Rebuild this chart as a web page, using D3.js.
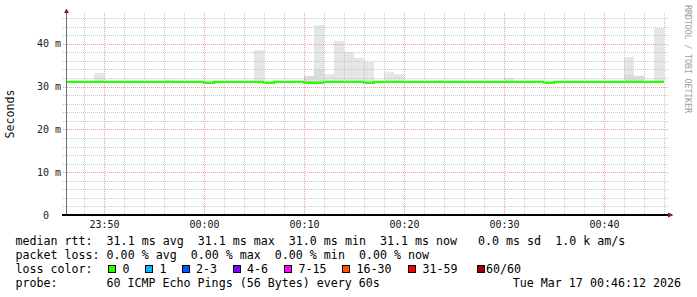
<!DOCTYPE html>
<html>
<head>
<meta charset="utf-8">
<script src="https://cdn.jsdelivr.net/npm/d3@7"></script>
<style>
  html, body { margin: 0; padding: 0; background: #fff; }
  svg { display: block; }
  text { white-space: pre; }
</style>
</head>
<body>
<div id="chart"></div>
<script>
// smokeping style chart, last hour, one value per minute (23:46 .. 00:45)
const firstMinute = new Date('2026-03-16T23:46:00')
const viewStart = new Date('2026-03-16T23:46:12')
const viewEnd = new Date('2026-03-17T00:46:12')

// median rtt in ms, per minute
const median = [
  31.1, 31.1, 31.1, 31.1, 31.1, 31.1, 31.1, 31.1, 31.1, 31.1,
  31.1, 31.1, 31.1, 31.1, 30.9, 31.1, 31.1, 31.1, 31.1, 31.1,
  30.9, 31.1, 31.1, 31.1, 30.9, 30.9, 31.1, 31.1, 31.1, 31.1,
  30.9, 31.1, 31.1, 31.1, 31.1, 31.1, 31.1, 31.1, 31.1, 31.1,
  31.1, 31.1, 31.1, 31.1, 31.1, 31.1, 31.1, 31.1, 30.9, 31.1,
  31.1, 31.1, 31.1, 31.1, 31.1, 31.1, 31.1, 31.1, 31.1, 31.1
]
// highest ping of the minute (smoke top), null = nothing above the median
const smokeMax = [
  null, null, null, 33.2, null, null, null, null, null, null,
  31.6, null, null, null, null, null, null, null, null, 38.5,
  null, null, null, null, 32.5, 44.4, 32.9, 40.7, 38.1, 36.7,
  35.8, null, 33.4, 32.9, null, null, null, 31.5, null, null,
  null, null, null, null, 32.0, null, null, null, null, null,
  null, null, null, null, null, null, 36.9, 32.5, null, 43.7
]
// denser part of the smoke
const smokeDense = [
  null, null, null, null, null, null, null, null, null, null,
  null, null, null, null, null, null, null, null, null, null,
  null, null, null, null, 32.5, 34.1, null, null, null, null,
  null, null, null, null, null, null, null, null, null, null,
  null, null, null, null, null, null, null, null, null, null,
  null, null, null, null, null, null, 32.9, 32.5, null, null
]

const yTicks = [0, 10, 20, 30, 40]
const yTickLabels = ['0  ', '10 m', '20 m', '30 m', '40 m']
const xTickLabels = ['23:50', '00:00', '00:10', '00:20', '00:30', '00:40']

const statsLines = [
  'median rtt:  31.1 ms avg  31.1 ms max  31.0 ms min  31.1 ms now   0.0 ms sd  1.0 k am/s',
  'packet loss: 0.00 % avg  0.00 % max  0.00 % min  0.00 % now'
]
const lossLabels = ['0', '1', '2-3', '4-6', '7-15', '16-30', '31-59', '60/60']
const lossColors = ['#26ff00', '#00b8ff', '#0059ff', '#7e00ff', '#ff00ff', '#ff5500', '#ff0000', '#a10000']
const probeText = '60 ICMP Echo Pings (56 Bytes) every 60s'
const dateText = 'Tue Mar 17 00:46:12 2026'

const W = 697
const H = 297
const mono = 'DejaVu Sans Mono'

const svg = d3.select('#chart').append('svg')
  .attr('width', W)
  .attr('height', H)

const x = d3.scaleTime().domain([viewStart, viewEnd]).range([66, 666])
const y = d3.scaleLinear().domain([0, 47.2]).range([215, 13])

const minutes = median.map((v, i) => d3.timeMinute.offset(firstMinute, i))
const rows = minutes.map((t, i) => ({
  t: t,
  t1: d3.timeMinute.offset(t, 1),
  med: median[i],
  max: smokeMax[i],
  dense: smokeDense[i]
}))

svg.append('clipPath').attr('id', 'plot')
  .append('rect').attr('x', 67).attr('y', 0).attr('width', 600).attr('height', 215)

const plot = svg.append('g').attr('clip-path', 'url(#plot)')

// smoke
plot.selectAll('rect.smoke')
  .data(rows.filter(d => d.max !== null))
  .enter().append('rect')
  .attr('class', 'smoke')
  .attr('x', d => x(d.t))
  .attr('width', d => x(d.t1) - x(d.t))
  .attr('y', d => y(d.max))
  .attr('height', d => y(d.med) - y(d.max))
  .attr('fill', '#e6e6e6')

plot.selectAll('rect.dense')
  .data(rows.filter(d => d.dense !== null))
  .enter().append('rect')
  .attr('class', 'dense')
  .attr('x', d => x(d.t))
  .attr('width', d => x(d.t1) - x(d.t))
  .attr('y', d => y(d.dense))
  .attr('height', d => y(d.med) - y(d.dense))
  .attr('fill', '#dcdcdc')

// grid
const grid = svg.append('g').attr('shape-rendering', 'crispEdges')
const yMinor = d3.range(2, 47, 2).filter(v => v % 10 !== 0)
const yMajor = yTicks.filter(v => v > 0)
grid.selectAll('line.hmin').data(yMinor).enter().append('line')
  .attr('x1', 63).attr('x2', 668)
  .attr('y1', d => Math.round(y(d)) + 0.5).attr('y2', d => Math.round(y(d)) + 0.5)
  .attr('stroke', '#c8c8c8').attr('stroke-dasharray', '1,1')
grid.selectAll('line.hmaj').data(yMajor).enter().append('line')
  .attr('x1', 63).attr('x2', 668)
  .attr('y1', d => Math.round(y(d)) + 0.5).attr('y2', d => Math.round(y(d)) + 0.5)
  .attr('stroke', '#e8a0a0').attr('stroke-dasharray', '1,1')

const xMinor = d3.timeMinute.every(2).range(viewStart, viewEnd).filter(t => t.getMinutes() % 10 !== 0)
const xMajor = d3.timeMinute.every(10).range(viewStart, viewEnd)
grid.selectAll('line.vmin').data(xMinor).enter().append('line')
  .attr('y1', 13).attr('y2', 215)
  .attr('x1', d => Math.round(x(d)) + 0.5).attr('x2', d => Math.round(x(d)) + 0.5)
  .attr('stroke', '#c8c8c8').attr('stroke-dasharray', '1,1')
grid.selectAll('line.vmaj').data(xMajor).enter().append('line')
  .attr('y1', 13).attr('y2', 215)
  .attr('x1', d => Math.round(x(d)) + 0.5).attr('x2', d => Math.round(x(d)) + 0.5)
  .attr('stroke', '#e8a0a0').attr('stroke-dasharray', '1,1')

// median line
const medPts = rows.map(d => [d.t, d.med])
medPts.push([rows[rows.length - 1].t1, median[median.length - 1]])
plot.append('path')
  .datum(medPts)
  .attr('fill', 'none')
  .attr('stroke', lossColors[0])
  .attr('stroke-width', 2.3)
  .attr('d', d3.line().curve(d3.curveStepAfter).x(d => x(d[0])).y(d => y(d[1])))

// axes
svg.append('line')
  .attr('x1', 66.5).attr('x2', 66.5).attr('y1', 12).attr('y2', 215)
  .attr('stroke', '#707070').attr('shape-rendering', 'crispEdges')
svg.append('line')
  .attr('x1', 62).attr('x2', 669).attr('y1', 215).attr('y2', 215)
  .attr('stroke', '#000').attr('stroke-width', 2).attr('shape-rendering', 'crispEdges')
svg.append('path').attr('d', 'M64,13L66.5,8.5L69,13Z').attr('fill', '#8a1c1c')
svg.append('path').attr('d', 'M668,212.5L673.5,215L668,217.5Z').attr('fill', '#8a1c1c')

svg.selectAll('text.ylab').data(yTicks).enter().append('text')
  .attr('x', 61).attr('y', d => y(d) + 3.5)
  .attr('text-anchor', 'end')
  .attr('font-family', mono).attr('font-size', 10).attr('fill', '#222')
  .text((d, i) => yTickLabels[i])

const parseHM = s => {
  const p = s.split(':').map(Number)
  const day = p[0] >= 12 ? '2026-03-16' : '2026-03-17'
  return new Date(day + 'T' + s + ':00')
}
svg.selectAll('text.xlab').data(xTickLabels).enter().append('text')
  .attr('x', d => Math.round(x(parseHM(d))) + 0.5).attr('y', 228)
  .attr('text-anchor', 'middle')
  .attr('font-family', mono).attr('font-size', 10).attr('fill', '#111')
  .text(d => d)

svg.append('text')
  .attr('transform', 'translate(14,114) rotate(-90)')
  .attr('text-anchor', 'middle')
  .attr('font-family', mono).attr('font-size', 11.6).attr('fill', '#111')
  .text('Seconds')

svg.append('text')
  .attr('transform', 'translate(685,5) rotate(90)')
  .attr('font-family', mono).attr('font-size', 8.5).attr('fill', '#a0a0a0')
  .attr('textLength', 108).attr('lengthAdjust', 'spacing')
  .text('RRDTOOL / TOBI OETIKER')

// legend
const leg = svg.append('g').attr('font-family', mono).attr('font-size', 11.65).attr('fill', '#000')
statsLines.forEach((s, i) => {
  leg.append('text').attr('x', 15.5).attr('y', 245 + i * 14).text(s)
})
leg.append('text').attr('x', 15.5).attr('y', 273).text('loss color:')
const boxX = [108.5, 145.5, 182.5, 233.5, 284.5, 342.5, 408.5, 477.5]
const labX = [122.5, 159.5, 196, 247, 298.5, 356.5, 422.5, 486]
lossLabels.forEach((l, i) => {
  leg.append('rect')
    .attr('x', boxX[i]).attr('y', 265.5).attr('width', 7).attr('height', 7)
    .attr('fill', lossColors[i]).attr('stroke', '#000').attr('shape-rendering', 'crispEdges')
  leg.append('text').attr('x', labX[i]).attr('y', 273).text(l)
})
leg.append('text').attr('x', 15.5).attr('y', 287).text('probe:')
leg.append('text').attr('x', 106.5).attr('y', 287).text(probeText)
leg.append('text').attr('x', 681).attr('y', 287).attr('text-anchor', 'end').text(dateText)
</script>
</body>
</html>
